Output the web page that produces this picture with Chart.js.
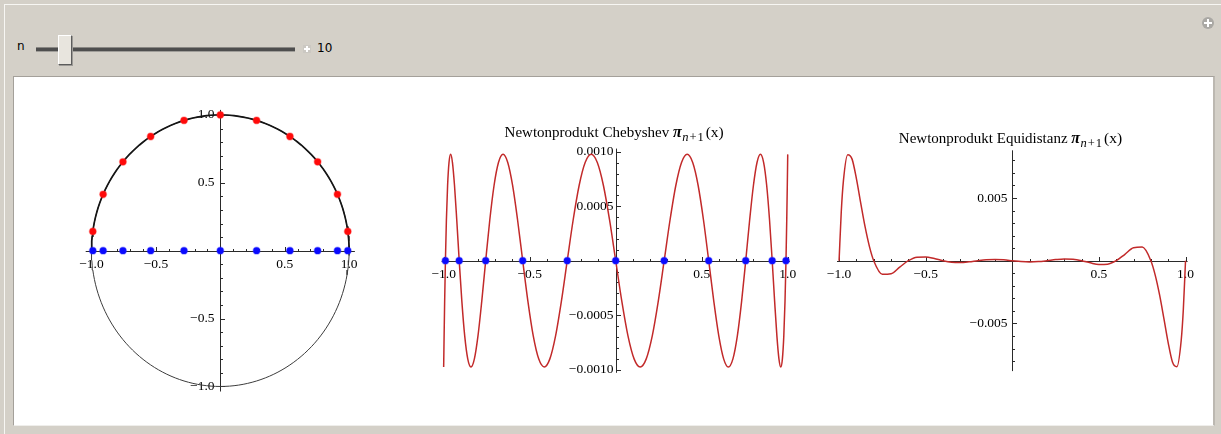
<!DOCTYPE html>
<html>
<head>
<meta charset="utf-8">
<title>Newtonprodukt</title>
<script src="https://cdn.jsdelivr.net/npm/chart.js@4.4.1/dist/chart.umd.min.js"></script>
<style>
  html, body { margin: 0; padding: 0; }
  body { position: relative; width: 1221px; height: 434px; overflow: hidden; background: #d4d0c8; font-family: Tahoma, "DejaVu Sans", sans-serif; color: #000; }
  .abs { position: absolute; }
  #edgeTop { left: 4px; top: 4px; width: 1217px; height: 1px; background: #f7f6f3; }
  #edgeLeft { left: 4px; top: 4px; width: 1px; height: 430px; background: #f7f6f3; }
  #panel { left: 13px; top: 76px; width: 1199px; height: 348px; background: #fff; border-top: 1px solid #a4a09a; border-left: 1px solid #a4a09a; border-right: 2px solid #bcb8b1; border-bottom: 1px solid #efeeeb; }
  #nLabel { left: 17px; top: 39px; font-size: 12px; }
  #track { left: 36px; top: 47px; width: 259px; height: 3px; background: #4e4e4e; border-bottom: 1px solid #a09e9a; border-top: 1px solid #8a8884; }
  #thumb { left: 58px; top: 35px; width: 12px; height: 28px; background: #e8e5de; border-top: 1px solid #fff; border-left: 1px solid #fff; border-right: 1px solid #5c5c5c; border-bottom: 1px solid #5c5c5c; box-shadow: 1px 1px 0 #9c9a96; }
  #stepBox { left: 303px; top: 45px; width: 8px; height: 8px; background: #cbc8c2; }
  #stepBox::before { content: ''; position: absolute; left: 3px; top: 1px; width: 2px; height: 6px; background: #fff; }
  #stepBox::after { content: ''; position: absolute; left: 1px; top: 3px; width: 6px; height: 2px; background: #fff; }
  #nValue { left: 317px; top: 41px; font-size: 12px; }
  #addIcon { left: 1202px; top: 17px; width: 12px; height: 12px; border-radius: 50%; background: #aaa8a4; }
  #addIcon::before { content: ''; position: absolute; left: 5px; top: 2px; width: 2px; height: 8px; background: #fff; }
  #addIcon::after { content: ''; position: absolute; left: 2px; top: 5px; width: 8px; height: 2px; background: #fff; }
  canvas { position: absolute; }
  #circleChart { left: 40px; top: 90px; }
  #chebChart { left: 400px; top: 110px; }
  #equiChart { left: 815px; top: 110px; }
</style>
</head>
<body>
<div class="abs" id="edgeTop"></div>
<div class="abs" id="edgeLeft"></div>
<div class="abs" id="addIcon"></div>
<div class="abs" id="nLabel">n</div>
<div class="abs" id="track"></div>
<div class="abs" id="thumb"></div>
<div class="abs" id="stepBox"></div>
<div class="abs" id="nValue">10</div>
<div class="abs" id="panel"></div>
<canvas id="circleChart" width="340" height="325"></canvas>
<canvas id="chebChart" width="410" height="300"></canvas>
<canvas id="equiChart" width="395" height="300"></canvas>
<script>
// Chebyshev product curve, sampled densely near the ends
const chebX = [-1, -0.99936, -0.99745, -0.99427, -0.98982, -0.98411, -0.97715, -0.96894, -0.95949, -0.94883,
  -0.93695, -0.92388, -0.90963, -0.89423, -0.87768, -0.86002, -0.84125, -0.82142, -0.80054, -0.77864,
  -0.75575, -0.7319, -0.70711, -0.68142, -0.65486, -0.62747, -0.59928, -0.57032, -0.54064, -0.51027,
  -0.47925, -0.44762, -0.41542, -0.38268, -0.34946, -0.31581, -0.28173, -0.24731, -0.21257, -0.17755,
  -0.14231, -0.1069, -0.07134, -0.03569, 0, 0.03569, 0.07134, 0.1069, 0.14231, 0.17755,
  0.21257, 0.24731, 0.28173, 0.31581, 0.34946, 0.38268, 0.41542, 0.44762, 0.47925, 0.51027,
  0.54064, 0.57032, 0.59928, 0.62747, 0.65486, 0.68142, 0.70711, 0.7319, 0.75575, 0.77864,
  0.80054, 0.82142, 0.84125, 0.86002, 0.87768, 0.89423, 0.90963, 0.92388, 0.93695, 0.94883,
  0.95949, 0.96894, 0.97715, 0.98411, 0.98982, 0.99427, 0.99745, 0.99936, 1];
const chebY = [
  -0.000977, -0.000902, -0.000691, -0.000374, 0, 0.000374, 0.000691, 0.000902, 0.000977, 0.000902, 0.000691, 0.000374, 0, -0.000374, -0.000691, -0.000902,
  -0.000977, -0.000902, -0.000691, -0.000374, 0, 0.000374, 0.000691, 0.000902, 0.000977, 0.000902, 0.000691, 0.000374, 0, -0.000374, -0.000691, -0.000902,
  -0.000977, -0.000902, -0.000691, -0.000374, 0, 0.000374, 0.000691, 0.000902, 0.000977, 0.000902, 0.000691, 0.000374, 0, -0.000374, -0.000691, -0.000902,
  -0.000977, -0.000902, -0.000691, -0.000374, 0, 0.000374, 0.000691, 0.000902, 0.000977, 0.000902, 0.000691, 0.000374, 0, -0.000374, -0.000691, -0.000902,
  -0.000977, -0.000902, -0.000691, -0.000374, 0, 0.000374, 0.000691, 0.000902, 0.000977, 0.000902, 0.000691, 0.000374, 0, -0.000374, -0.000691, -0.000902,
  -0.000977, -0.000902, -0.000691, -0.000374, 0, 0.000374, 0.000691, 0.000902, 0.000977];

// upper half of the unit circle, same x samples as chebX
const circleY = [0, 0.03569, 0.07134, 0.1069, 0.14231, 0.17755, 0.21257, 0.24731, 0.28173, 0.31581,
  0.34946, 0.38268, 0.41542, 0.44762, 0.47925, 0.51027, 0.54064, 0.57032, 0.59928, 0.62747,
  0.65486, 0.68142, 0.70711, 0.7319, 0.75575, 0.77864, 0.80054, 0.82142, 0.84125, 0.86002,
  0.87768, 0.89423, 0.90963, 0.92388, 0.93695, 0.94883, 0.95949, 0.96894, 0.97715, 0.98411,
  0.98982, 0.99427, 0.99745, 0.99936, 1, 0.99936, 0.99745, 0.99427, 0.98982, 0.98411,
  0.97715, 0.96894, 0.95949, 0.94883, 0.93695, 0.92388, 0.90963, 0.89423, 0.87768, 0.86002,
  0.84125, 0.82142, 0.80054, 0.77864, 0.75575, 0.7319, 0.70711, 0.68142, 0.65486, 0.62747,
  0.59928, 0.57032, 0.54064, 0.51027, 0.47925, 0.44762, 0.41542, 0.38268, 0.34946, 0.31581,
  0.28173, 0.24731, 0.21257, 0.17755, 0.14231, 0.1069, 0.07134, 0.03569, 0];

// Chebyshev nodes (n = 10) and their points on the circle
const nodeX = [-0.98982, -0.90963, -0.75575, -0.54064, -0.28173, 0, 0.28173, 0.54064, 0.75575, 0.90963, 0.98982];
const nodeY = [0.14231, 0.41542, 0.65486, 0.84125, 0.95949, 1, 0.95949, 0.84125, 0.65486, 0.41542, 0.14231];

// equidistant product curve
const equiX = [-1, -0.9875, -0.975, -0.95, -0.925, -0.9, -0.875, -0.85, -0.825, -0.8,
  -0.75, -0.7, -0.65, -0.6, -0.55, -0.5, -0.45, -0.4, -0.35, -0.3,
  -0.25, -0.2, -0.15, -0.1, -0.05, 0, 0.05, 0.1, 0.15, 0.2,
  0.25, 0.3, 0.35, 0.4, 0.45, 0.5, 0.55, 0.6, 0.65, 0.7,
  0.75, 0.8, 0.825, 0.85, 0.875, 0.9, 0.925, 0.95, 0.975, 0.9875, 1];
const equiY = [0, 0.003856, 0.006359, 0.008447, 0.008097, 0.006547, 0.004592, 0.002708, 0.001145, 0,
  -0.001083, -0.001034, -0.000512, 0, 0.000278, 0.000304, 0.000171, 0, -0.000117, -0.000142,
  -0.0000883, 0, 0.0000735, 0.0000982, 0.0000671, 0, -0.0000671, -0.0000982, -0.0000735, 0,
  0.0000883, 0.000142, 0.000117, 0, -0.000171, -0.000304, -0.000278, 0, 0.000512, 0.001034,
  0.001083, 0, -0.001145, -0.002708, -0.004592, -0.006547, -0.008097, -0.008447, -0.006359, -0.003856, 0];

// tick labels
const unitTicks = [-1, -0.5, 0.5, 1];
const unitLabels = ['−1.0', '−0.5', '0.5', '1.0'];
const chebYTicks = [-0.001, -0.0005, 0.0005, 0.001];
const chebYLabels = ['−0.0010', '−0.0005', '0.0005', '0.0010'];
const equiYTicks = [-0.005, 0.005];
const equiYLabels = ['−0.005', '0.005'];

const serif = '"Liberation Serif", "Times New Roman", serif';
const labelFont = '13.5px ' + serif;
const axisColor = '#2a2a2a';
const curveRed = '#c22a2a';

function pts(xs, ys) {
    return xs.map((x, i) => ({ x: x, y: ys[i] }));
}

// Mathematica-like axes crossing at the origin
const mathAxes = {
    id: 'mathAxes',
    beforeDatasetsDraw(chart, args, o) {
        const ctx = chart.ctx;
        const a = chart.chartArea;
        const sx = chart.scales.x, sy = chart.scales.y;
        const x0 = Math.round(sx.getPixelForValue(0)) + 0.5;
        const y0 = Math.round(sy.getPixelForValue(0)) + 0.5;

        const minorList = (scale, step, major) => {
            const out = [];
            const k0 = Math.ceil(scale.min / step - 1e-9), k1 = Math.floor(scale.max / step + 1e-9);
            for (let k = k0; k <= k1; k++) {
                const v = k * step;
                if (k === 0) continue;
                if (major.some(m => Math.abs(m - v) < step * 0.01)) continue;
                out.push(v);
            }
            return out;
        };

        ctx.save();
        ctx.strokeStyle = axisColor;
        ctx.lineWidth = 1;
        ctx.beginPath();
        ctx.moveTo(a.left, y0); ctx.lineTo(a.right, y0);
        ctx.moveTo(x0, a.top); ctx.lineTo(x0, a.bottom);

        o.xTicks.forEach(v => {
            const p = Math.round(sx.getPixelForValue(v)) + 0.5;
            ctx.moveTo(p, y0); ctx.lineTo(p, y0 - 4.5);
        });
        minorList(sx, o.xMinor, o.xTicks).forEach(v => {
            const p = Math.round(sx.getPixelForValue(v)) + 0.5;
            ctx.moveTo(p, y0); ctx.lineTo(p, y0 - 2.5);
        });
        o.yTicks.forEach(v => {
            const p = Math.round(sy.getPixelForValue(v)) + 0.5;
            ctx.moveTo(x0, p); ctx.lineTo(x0 + 4.5, p);
        });
        minorList(sy, o.yMinor, o.yTicks).forEach(v => {
            const p = Math.round(sy.getPixelForValue(v)) + 0.5;
            ctx.moveTo(x0, p); ctx.lineTo(x0 + 2.5, p);
        });
        ctx.stroke();

        ctx.fillStyle = '#000';
        ctx.font = labelFont;
        ctx.textBaseline = 'middle';
        ctx.textAlign = 'center';
        o.xTicks.forEach((v, i) => {
            ctx.fillText(o.xLabels[i], sx.getPixelForValue(v), y0 + 13);
        });
        ctx.textAlign = 'right';
        o.yTicks.forEach((v, i) => {
            ctx.fillText(o.yLabels[i], x0 - o.yGap, sy.getPixelForValue(v));
        });
        ctx.restore();
    },
    afterDraw(chart, args, o) {
        if (!o.title) return;
        const ctx = chart.ctx;
        const parts = [
            { text: o.title + ' ', font: '15px ' + serif, dy: 0, gap: 0 },
            { text: 'π', font: 'italic 600 16px ' + serif, dy: 0, gap: 0.5 },
            { text: 'n', font: 'italic 12.5px ' + serif, dy: 4, gap: 1 },
            { text: '+', font: '12.5px ' + serif, dy: 4, gap: 1 },
            { text: '1', font: '12.5px ' + serif, dy: 4, gap: 2 },
            { text: '(x)', font: '15.5px ' + serif, dy: 0, gap: 0 }
        ];
        ctx.save();
        ctx.fillStyle = '#000';
        ctx.textBaseline = 'alphabetic';
        ctx.textAlign = 'left';
        let total = 0;
        parts.forEach(p => { ctx.font = p.font; p.w = ctx.measureText(p.text).width + p.gap; total += p.w; });
        let x = chart.scales.x.getPixelForValue(0) + o.titleShift - total / 2;
        parts.forEach(p => {
            ctx.font = p.font;
            ctx.fillText(p.text, x, o.titleY + p.dy);
            x += p.w;
        });
        ctx.restore();
    }
};

function makeChart(id, datasets, xRange, yRange, padding, axes) {
    return new Chart(document.getElementById(id), {
        type: 'scatter',
        data: { datasets: datasets },
        options: {
            responsive: false,
            animation: false,
            events: [],
            layout: { padding: padding },
            plugins: {
                legend: { display: false },
                tooltip: { enabled: false },
                mathAxes: axes
            },
            scales: {
                x: { type: 'linear', min: xRange[0], max: xRange[1], display: false },
                y: { type: 'linear', min: yRange[0], max: yRange[1], display: false }
            }
        },
        plugins: [mathAxes]
    });
}

const dot = (xs, ys, fill, halo) => ({
    data: pts(xs, ys),
    pointRadius: 3.4,
    pointBackgroundColor: fill,
    pointBorderColor: halo,
    pointBorderWidth: 1.5,
    showLine: false,
    clip: false
});

const zeros = nodeX.map(() => 0);
const lowerArc = pts(chebX.slice().reverse(), circleY.map(v => -v).reverse());

makeChart('circleChart', [
    dot(nodeX, zeros, '#0a0aff', 'rgba(40,40,255,0.35)'),
    dot(nodeX, nodeY, '#ff0a0a', 'rgba(255,40,40,0.35)'),
    { data: pts(chebX, circleY), showLine: true, borderColor: '#151515', borderWidth: 1.7, pointRadius: 0, tension: 0 },
    { data: pts(chebX, circleY).concat(lowerArc), showLine: true, borderColor: '#3c3c3c', borderWidth: 1, pointRadius: 0, tension: 0 }
], [-1.045, 1.045], [-1.037, 1.037], { left: 45.7, right: 25.1, top: 19.9, bottom: 23.5 }, {
    xTicks: unitTicks, xLabels: unitLabels, xMinor: 0.1,
    yTicks: unitTicks, yLabels: unitLabels, yMinor: 0.1, yGap: 6
});

makeChart('chebChart', [
    dot(nodeX, zeros, '#0a0aff', 'rgba(40,40,255,0.35)'),
    { data: pts(chebX, chebY), showLine: true, borderColor: curveRed, borderWidth: 1.5, pointRadius: 0, cubicInterpolationMode: 'monotone' }
], [-1.012, 1.012], [-0.00103, 0.00103], { left: 41.6, right: 20.2, top: 38.6, bottom: 37.2 }, {
    xTicks: unitTicks, xLabels: unitLabels, xMinor: 0.1,
    yTicks: chebYTicks, yLabels: chebYLabels, yMinor: 0.0001, yGap: 3,
    title: 'Newtonprodukt Chebyshev', titleY: 27, titleShift: -1.5
});

makeChart('equiChart', [
    { data: pts(equiX, equiY), showLine: true, borderColor: curveRed, borderWidth: 1.5, pointRadius: 0, cubicInterpolationMode: 'monotone' }
], [-1.012, 1.012], [-0.0088, 0.0088], { left: 22, right: 22.4, top: 40.3, bottom: 38.9 }, {
    xTicks: unitTicks, xLabels: unitLabels, xMinor: 0.1,
    yTicks: equiYTicks, yLabels: equiYLabels, yMinor: 0.001, yGap: 5,
    title: 'Newtonprodukt Equidistanz', titleY: 33, titleShift: -1.8
});
</script>
</body>
</html>
